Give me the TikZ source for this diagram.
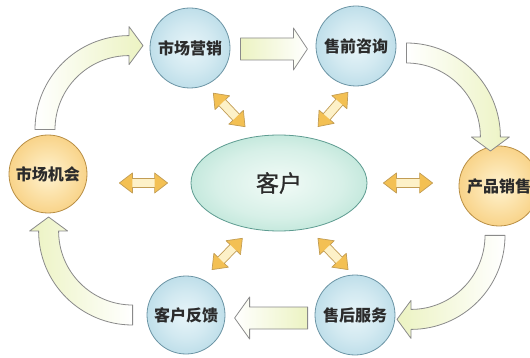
\documentclass[tikz,border=0pt]{standalone}
\usepackage{fontspec}
\newfontfamily\cjk{Noto Sans CJK SC}
\newfontfamily\cjkm[FakeBold=1]{Noto Sans CJK SC}
\usetikzlibrary{shapes.geometric,calc}
\definecolor{bluein}{HTML}{E8F5F9}
\definecolor{blueout}{HTML}{90C5D8}
\definecolor{blueline}{HTML}{6C95A5}
\definecolor{orin}{HTML}{FFF3D0}
\definecolor{orout}{HTML}{F2B443}
\definecolor{orline}{HTML}{B98F45}
\definecolor{elin}{HTML}{F2FBF7}
\definecolor{elout}{HTML}{86CFB9}
\definecolor{elline}{HTML}{5E9C91}
\definecolor{leaf}{HTML}{ECF3C2}
\definecolor{arrline}{HTML}{8A8A8A}
\definecolor{dmid}{HTML}{FDF1C8}
\definecolor{dhead}{HTML}{F3C053}
\definecolor{dline}{HTML}{C29D55}
\definecolor{txt}{HTML}{2B2B2B}
\pgfdeclareradialshading{blueball}{\pgfpoint{0bp}{0bp}}{color(0bp)=(bluein); color(15bp)=(bluein!75!blueout); color(50bp)=(blueout)}
\pgfdeclareradialshading{orball}{\pgfpoint{0bp}{0bp}}{color(0bp)=(orin); color(15bp)=(orin!70!orout); color(50bp)=(orout)}
\pgfdeclareradialshading{elball}{\pgfpoint{0bp}{0bp}}{color(0bp)=(elin); color(18bp)=(elin!75!elout); color(50bp)=(elout)}
\newcommand\dblarr[4]{%
  \coordinate (dA) at ($(#1)!#3!(#2)$);
  \coordinate (dB) at ($(#2)!#4!(#1)$);
  \coordinate (hA) at ($(dA)!13pt!(dB)$);
  \coordinate (hB) at ($(dB)!13pt!(dA)$);
  \fill[dblbody] (dA) -- ($(hA)!10pt!90:(dB)$) -- ($(hA)!4.5pt!90:(dB)$) -- ($(hB)!4.5pt!-90:(dA)$) -- ($(hB)!10pt!-90:(dA)$) -- (dB) -- ($(hB)!10pt!90:(dA)$) -- ($(hB)!4.5pt!90:(dA)$) -- ($(hA)!4.5pt!-90:(dB)$) -- ($(hA)!10pt!-90:(dB)$) -- cycle;
  \fill[dblhead] (dA) -- ($(hA)!10pt!90:(dB)$) -- ($(hA)!10pt!-90:(dB)$) -- cycle;
  \fill[dblhead] (dB) -- ($(hB)!10pt!90:(dA)$) -- ($(hB)!10pt!-90:(dA)$) -- cycle;
  \draw[dblline] (dA) -- ($(hA)!10pt!90:(dB)$) -- ($(hA)!4.5pt!90:(dB)$) -- ($(hB)!4.5pt!-90:(dA)$) -- ($(hB)!10pt!-90:(dA)$) -- (dB) -- ($(hB)!10pt!90:(dA)$) -- ($(hB)!4.5pt!90:(dA)$) -- ($(hA)!4.5pt!-90:(dB)$) -- ($(hA)!10pt!-90:(dB)$) -- cycle;
}
\begin{document}
\begin{tikzpicture}[x=1pt,y=-1pt,
  bluec/.style={circle, minimum size=80pt, inner sep=0pt, draw=blueline, line width=0.8pt, shading=blueball, font=\cjk\bfseries\fontsize{16}{16}\selectfont, text=txt},
  orc/.style={circle, minimum size=78pt, inner sep=0pt, draw=orline, line width=0.8pt, shading=orball, font=\cjk\bfseries\fontsize{16}{16}\selectfont, text=txt},
  custc/.style={ellipse, minimum width=176pt, minimum height=96pt, inner sep=0pt, draw=elline, line width=0.8pt, shading=elball, font=\cjkm\fontsize{23}{23}\selectfont, text=txt},
  bigarr/.style={draw=arrline, line width=0.8pt, line join=round},
  dblbody/.style={fill=dmid},
  dblhead/.style={fill=dhead},
  dblline/.style={draw=dline, line width=0.7pt, line join=round}]
\fill[white] (0,0) rectangle (530,358);
\useasboundingbox (0,0) rectangle (530,358);
% nodes
\node[bluec] (mkt) at (190,48) {市场营销};
\node[bluec] (pre) at (356,46) {售前咨询};
\node[orc] (opp) at (48,174) {市场机会};
\node[orc, minimum size=80pt] (sale) at (499,186) {产品销售};
\node[bluec, minimum size=78pt] (fb) at (186,315) {客户反馈};
\node[bluec] (after) at (355,315) {售后服务};
\node[custc] (cust) at (279,183) {客户};
% big flow arrows
\coordinate (c1) at ($(opp.north)+(-3,-5)$);
\coordinate (c2) at ($(pre.east)+(10,7)$);
\coordinate (c3) at ($(sale.south)+(-4,9)$);
\coordinate (c4) at ($(fb.west)+(-14,0)$);
\coordinate (c5) at ($(mkt.east)+(10,1)$);
\coordinate (c6) at ($(after.west)+(-7,3)$);
\draw[bigarr, left color=white, right color=leaf]
  ($(c1)+(-10,0)$) arc[start angle=180, end angle=270, radius=94]
  -- ++(0,-9) -- ++(14,19) -- ++(-14,19) -- ++(0,-9)
  arc[start angle=270, end angle=180, radius=74] -- cycle;
\draw[bigarr, left color=leaf, right color=white]
  ($(c5)+(0,-11)$) -- ++(53,0) -- ++(0,-10) -- ++(14,21) -- ++(-14,21) -- ++(0,-10) -- ++(-53,0) -- cycle;
\draw[bigarr, left color=white, right color=leaf]
  ($(c2)+(0,-10)$) arc[start angle=-90, end angle=0, radius=94]
  -- ++(9,0) -- ++(-19,14) -- ++(-19,-14) -- ++(9,0)
  arc[start angle=0, end angle=-90, radius=74] -- cycle;
\draw[bigarr, left color=leaf, right color=white]
  ($(c3)+(10,0)$) arc[start angle=0, end angle=90, radius=94]
  -- ++(0,9) -- ++(-14,-19) -- ++(14,-19) -- ++(0,9)
  arc[start angle=90, end angle=0, radius=74] -- cycle;
\draw[bigarr, left color=white, right color=leaf]
  ($(c6)+(0,-11)$) -- ++(-58,0) -- ++(0,-10) -- ++(-15,21) -- ++(15,21) -- ++(0,-10) -- ++(58,0) -- cycle;
\draw[bigarr, left color=leaf, right color=white]
  ($(c4)+(0,10)$) arc[start angle=90, end angle=180, radius=94]
  -- ++(-9,0) -- ++(19,-14) -- ++(19,14) -- ++(-9,0)
  arc[start angle=180, end angle=90, radius=74] -- cycle;
% double arrows to the customer
\coordinate (oppR) at (opp.east |- cust.center);
\coordinate (saleL) at (sale.west |- cust.center);
\dblarr{mkt.-67}{cust.118}{11pt}{13.5pt}
\dblarr{pre.-94}{cust.57}{8pt}{14.4pt}
\dblarr{oppR}{cust.west}{32pt}{23pt}
\dblarr{cust.east}{saleL}{16pt}{26pt}
\dblarr{cust.-121}{fb.65}{13pt}{13.5pt}
\dblarr{cust.-57}{after.93}{13.5pt}{7pt}
\end{tikzpicture}
\end{document}
